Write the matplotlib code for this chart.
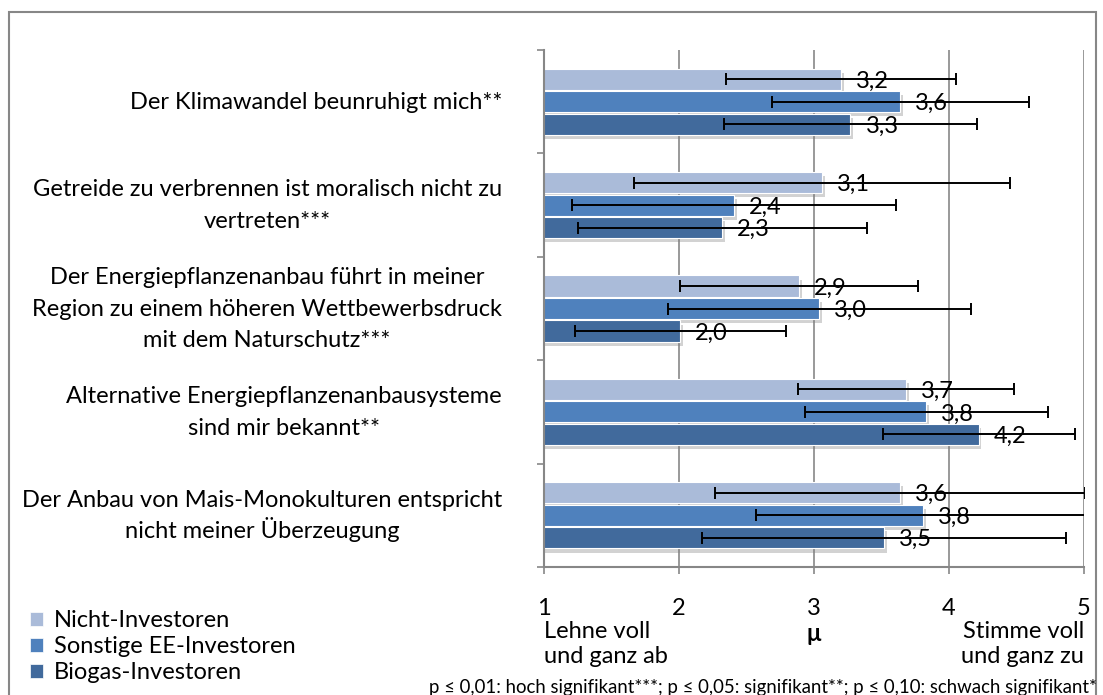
import numpy as np
import matplotlib
matplotlib.use("Agg")
import matplotlib.pyplot as plt
from matplotlib.patches import Patch, Rectangle
from matplotlib import patheffects as pe

plt.rcParams['font.family'] = ['Lato', 'DejaVu Sans']

categories = [
    "Der Klimawandel beunruhigt mich**",
    "Getreide zu verbrennen ist moralisch nicht zu\nvertreten***",
    "Der Energiepflanzenanbau führt in meiner\nRegion zu einem höheren Wettbewerbsdruck\nmit dem Naturschutz***",
    "Alternative Energiepflanzenanbausysteme\nsind mir bekannt**",
    "Der Anbau von Mais-Monokulturen entspricht\nnicht meiner Überzeugung",
]
series_names = ["Nicht-Investoren", "Sonstige EE-Investoren", "Biogas-Investoren"]
mean_nicht = [3.20, 3.06, 2.89, 3.68, 3.64]
mean_sonstige = [3.64, 2.41, 3.04, 3.83, 3.81]
mean_biogas = [3.27, 2.32, 2.01, 4.22, 3.52]
sd_nicht = [0.85, 1.39, 0.88, 0.80, 1.37]
sd_sonstige = [0.95, 1.20, 1.12, 0.90, 1.24]
sd_biogas = [0.94, 1.07, 0.78, 0.71, 1.35]
x_ticks = [1, 2, 3, 4, 5]
x_left_label = "Lehne voll\nund ganz ab"
x_right_label = "Stimme voll\nund ganz zu"
x_title = "μ"
footnote = "p ≤ 0,01: hoch signifikant***; p ≤ 0,05: signifikant**; p ≤ 0,10: schwach signifikant*"

colors = ["#AABBD9", "#4F81BD", "#416A9C"]
FS = 17
GRAY = "#878787"

W, H = 1103, 695
fig = plt.figure(figsize=(W / 100, H / 100), dpi=100)
ax = fig.add_axes([544 / W, (H - 567) / H, 540 / W, 517 / H])

y = np.arange(len(categories))
pitch = 0.218
bh = 0.205
means = [mean_nicht, mean_sonstige, mean_biogas]
sds = [sd_nicht, sd_sonstige, sd_biogas]
offsets = [-pitch, 0, pitch]

for m, s, off, c, name in zip(means, sds, offsets, colors, series_names):
    bars = ax.barh(y + off, m, height=bh, color=c, edgecolor='white', linewidth=0.8,
                   label=name, zorder=2)
    for b in bars:
        b.set_path_effects([pe.SimplePatchShadow(offset=(2, -3), shadow_rgbFace='#7f7f7f', alpha=0.35),
                            pe.Normal()])
    ax.errorbar(m, y + off, xerr=s, fmt='none', ecolor='black', elinewidth=1.4,
                capsize=4.5, capthick=1.4, zorder=3)
    for yi, v in zip(y + off, m):
        ax.annotate(f"{v:.1f}".replace('.', ','), (v, yi), xytext=(15, -2),
                    textcoords='offset pixels', ha='left', va='center',
                    fontsize=FS, color='black', zorder=4, annotation_clip=False)

ax.set_xlim(1, 5)
ax.set_ylim(len(categories) - 0.5, -0.5)

ax.set_xticks(x_ticks)
ax.set_xticklabels([str(t) for t in x_ticks], fontsize=FS)
ax.tick_params(axis='x', direction='out', length=5, width=1.2, color=GRAY, pad=17)
ax.grid(axis='x', color=GRAY, linewidth=1.2, zorder=0)
ax.set_axisbelow(True)

# category labels: lines centred within a block that is right-aligned next to the axis
ax.set_yticks(y)
ax.set_yticklabels([""] * len(categories))
ax.tick_params(axis='y', which='major', length=0)
ax.set_yticks(np.arange(-0.5, len(categories), 1), minor=True)
ax.tick_params(axis='y', which='minor', direction='out', length=5, width=1.2, color=GRAY)

renderer = fig.canvas.get_renderer()
LINE_PX = 31.5
RIGHT_GAP = 42
for yi, cat in zip(y, categories):
    lines = cat.split("\n")
    widths = []
    for ln in lines:
        t = fig.text(0, 0, ln, fontsize=FS)
        widths.append(t.get_window_extent(renderer).width)
        t.remove()
    wmax = max(widths)
    n = len(lines)
    for j, ln in enumerate(lines):
        dy = 7 + (j - (n - 1) / 2) * LINE_PX
        ax.annotate(ln, xy=(0, yi), xycoords=('axes fraction', 'data'),
                    xytext=(-RIGHT_GAP - wmax / 2, -dy), textcoords='offset pixels',
                    ha='center', va='baseline', fontsize=FS, annotation_clip=False)

for sp in ['top', 'right']:
    ax.spines[sp].set_visible(False)
for sp in ['left', 'bottom']:
    ax.spines[sp].set_color(GRAY)
    ax.spines[sp].set_linewidth(1.5)

ax.text(0.0, -0.104, x_left_label, transform=ax.transAxes, ha='left', va='top',
        fontsize=FS, linespacing=1.22)
ax.text(1.0, -0.104, x_right_label, transform=ax.transAxes, ha='right', va='top',
        fontsize=FS, linespacing=1.22)
ax.text(0.5, -0.106, x_title, transform=ax.transAxes, ha='center', va='top',
        fontsize=FS, fontweight='bold')

handles = [Patch(facecolor=c, edgecolor='white', linewidth=0.5) for c in colors]
fig.legend(handles, series_names, loc='upper left', bbox_to_anchor=(30 / W, 1 - 610 / H),
           frameon=False, fontsize=FS, handlelength=0.55, handleheight=0.55,
           handletextpad=0.45, labelspacing=0.22, borderpad=0, borderaxespad=0)

fig.text(1097 / W, 1 - 687 / H, footnote, ha='right', va='center', fontsize=13.4)

border = Rectangle((9 / W, -0.1), (1096 - 9) / W, 1 - 12 / H + 0.1, transform=fig.transFigure,
                   fill=False, edgecolor=GRAY, linewidth=1.5, zorder=0)
fig.patches.append(border)

fig.savefig("out.png", dpi=100)
